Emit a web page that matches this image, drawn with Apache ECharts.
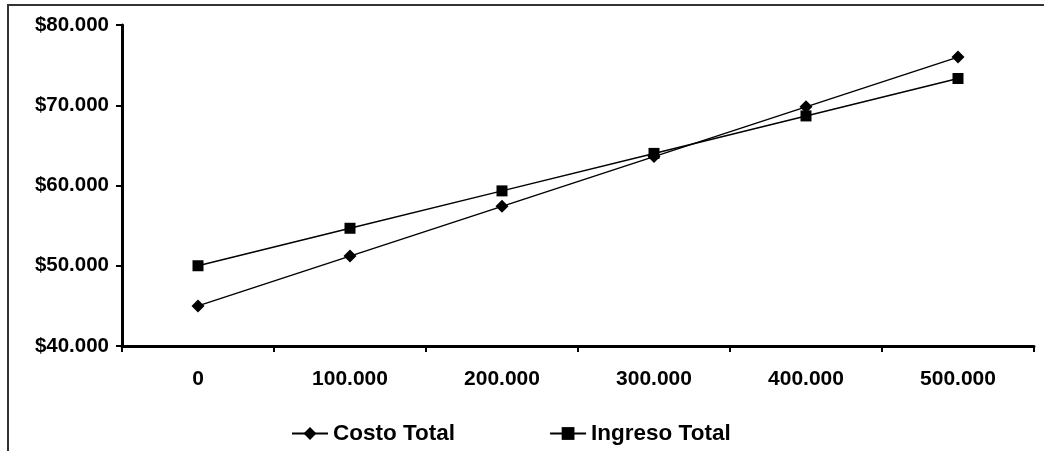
<!DOCTYPE html>
<html>
<head>
<meta charset="utf-8">
<script src="https://cdn.jsdelivr.net/npm/echarts@6/dist/echarts.min.js"></script>
<style>html,body{margin:0;padding:0;background:#fff}#c{width:1044px;height:451px}</style>
</head>
<body>
<div id="c"></div>
<script>
const categories = ['0', '100.000', '200.000', '300.000', '400.000', '500.000'];
const costoTotal = [45000, 51200, 57400, 63600, 69800, 76000];
const ingresoTotal = [50000, 54670, 59330, 64000, 68670, 73330];
const seriesNames = ['Costo Total', 'Ingreso Total'];
const yTicks = { min: 40000, max: 80000, interval: 10000 };

const FONT = '"Liberation Sans", Arial, sans-serif';
function fmtMoney(v) {
  return '$' + String(Math.round(v)).replace(/\B(?=(\d{3})+(?!\d))/g, '.');
}
const chart = echarts.init(document.getElementById('c'), null, { renderer: 'canvas' });
chart.setOption({
  animation: false,
  backgroundColor: '#fff',
  graphic: [{
    type: 'rect', shape: { x: 8, y: 5, width: 1200, height: 600 },
    style: { fill: 'none', stroke: '#333', lineWidth: 2 }, silent: true
  }],
  grid: { left: 122, right: 10, top: 25, bottom: 105, containLabel: false },
  legend: {
    left: 286, top: 417, itemWidth: 36, itemHeight: 16, itemGap: 94,
    textStyle: { fontFamily: FONT, fontWeight: 'bold', fontSize: 22.5, color: '#000' },
    data: seriesNames
  },
  xAxis: {
    type: 'category', data: categories, boundaryGap: true,
    axisLine: { lineStyle: { color: '#000', width: 3 } },
    axisTick: { show: true, length: 6, lineStyle: { color: '#000', width: 2 } },
    axisLabel: { margin: 23, color: '#000', fontFamily: FONT, fontWeight: 'bold', fontSize: 21 },
    splitLine: { show: false }
  },
  yAxis: {
    type: 'value', min: yTicks.min, max: yTicks.max, interval: yTicks.interval,
    axisLine: { show: true, lineStyle: { color: '#000', width: 3 } },
    axisTick: { show: true, length: 6, lineStyle: { color: '#000', width: 2 } },
    axisLabel: { margin: 13, color: '#000', fontFamily: FONT, fontWeight: 'bold', fontSize: 20.5, formatter: fmtMoney },
    splitLine: { show: false }
  },
  series: [
    {
      name: seriesNames[0], type: 'line', data: costoTotal,
      symbol: 'diamond', symbolSize: [13, 13], showSymbol: true,
      lineStyle: { color: '#000', width: 1.5 }, itemStyle: { color: '#000' }
    },
    {
      name: seriesNames[1], type: 'line', data: ingresoTotal,
      symbol: 'rect', symbolSize: [11, 11], showSymbol: true,
      lineStyle: { color: '#000', width: 1.5 }, itemStyle: { color: '#000' }
    }
  ]
});
</script>
</body>
</html>
